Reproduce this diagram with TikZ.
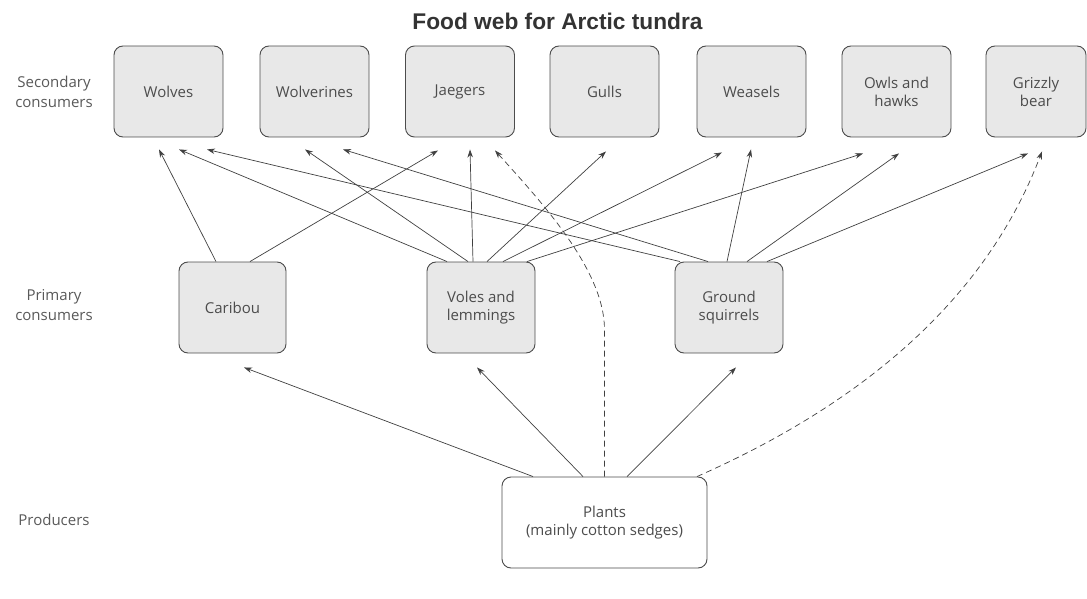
\documentclass[tikz,border=0pt]{standalone}
\usepackage{fontspec}
\setmainfont{Open Sans}
\newfontfamily\titlefont{Liberation Sans}
\usetikzlibrary{arrows.meta}
\begin{document}
\begin{tikzpicture}[x=1pt,y=-1pt,
  box/.style={draw=black!70, line width=0.9pt, rounded corners=9pt, fill=black!9, minimum width=109pt, minimum height=91pt, inner sep=0pt, align=center, font=\fontsize{15}{18}\selectfont, text=black!70},
  plantbox/.style={box, fill=white, minimum width=205pt},
  side/.style={align=center, font=\fontsize{15}{20}\selectfont, text=black!65},
  arr/.style={-{Stealth[length=8pt,width=5.5pt]}, draw=black!75, line width=0.7pt},
  darr/.style={arr, dash pattern=on 6pt off 4pt},
]
\useasboundingbox (0,0) rectangle (1087,599);
\node[font=\titlefont\bfseries\fontsize{22.7}{25}\selectfont, text=black!80] (title) at (557.5,21.5) {Food web for Arctic tundra};
% side labels
\node[side] (lsec) at (54,92) {Secondary\\consumers};
\node[side] (lpri) at (54,305) {Primary\\consumers};
\node[side] (lpro) at (54,520) {Producers};
% top row
\node[box] (wolves) at (168.5,91.5) {Wolves};
\node[box] (wolverines) at (314.5,91.5) {Wolverines};
\node[box] (jaegers) at (460,91.5) {Jaegers};
\node[box] (gulls) at (604.5,91.5) {Gulls};
\node[box] (weasels) at (751.5,91.5) {Weasels};
\node[box] (owls) at (896.5,91.5) {Owls and\\hawks};
\node[box, minimum width=100pt] (grizzly) at (1036,91.5) {Grizzly\\bear};
% middle row
\node[box, minimum width=107pt] (caribou) at (232.5,307.5) {Caribou};
\node[box, minimum width=108pt] (voles) at (481,307.5) {Voles and\\lemmings};
\node[box, minimum width=108pt] (gs) at (729,307.5) {Ground\\squirrels};
% producers
\node[plantbox] (plants) at (604.5,522.5) {Plants\\(mainly cotton sedges)};
% caribou
\draw[arr] ([xshift=-16.5pt]caribou.north) -- ([xshift=-9.5pt,yshift=-12pt]wolves.south);
\draw[arr] ([xshift=17.5pt]caribou.north) -- ([xshift=-22pt,yshift=-13pt]jaegers.south);
% voles
\draw[arr] ([xshift=-34pt]voles.north) -- ([xshift=10.5pt,yshift=-12pt]wolves.south);
\draw[arr] ([xshift=-13pt]voles.north) -- ([xshift=-9.5pt,yshift=-12pt]wolverines.south);
\draw[arr] ([xshift=-8pt]voles.north) -- ([xshift=10pt,yshift=-12pt]jaegers.south);
\draw[arr] ([xshift=6pt]voles.north) -- ([xshift=1.5pt,yshift=-14pt]gulls.south);
\draw[arr] ([xshift=22pt]voles.north) -- ([xshift=-29.5pt,yshift=-15pt]weasels.south);
\draw[arr] ([xshift=46pt]voles.north) -- ([xshift=-33.5pt,yshift=-16pt]owls.south);
% ground squirrels
\draw[arr] ([xshift=-49pt]gs.north) -- ([xshift=38.5pt,yshift=-12pt]wolves.south);
\draw[arr] ([xshift=-21pt]gs.north) -- ([xshift=28.5pt,yshift=-12pt]wolverines.south);
\draw[arr] ([xshift=-2pt]gs.north) -- ([xshift=-0.5pt,yshift=-12pt]weasels.south);
\draw[arr] ([xshift=18pt]gs.north) -- ([xshift=2.5pt,yshift=-16pt]owls.south);
\draw[arr] ([xshift=38pt]gs.north) -- ([xshift=-8pt,yshift=-16pt]grizzly.south);
% plants
\draw[arr] ([xshift=-71.5pt]plants.north) -- ([xshift=11.5pt,yshift=-14pt]caribou.south);
\draw[arr] ([xshift=-21.5pt]plants.north) -- ([xshift=-4pt,yshift=-14pt]voles.south);
\draw[arr] ([xshift=22.5pt]plants.north) -- ([xshift=7pt,yshift=-14pt]gs.south);
\draw[darr] (plants.north) -- ([yshift=147pt]plants.north) .. controls +(0,-60) and +(45,50) .. ([xshift=35pt,yshift=-13pt]jaegers.south);
\draw[darr] ([xshift=92.5pt]plants.north) .. controls +(163,-72) and +(-57,150) .. ([xshift=6pt,yshift=-14pt]grizzly.south);
\end{tikzpicture}
\end{document}
